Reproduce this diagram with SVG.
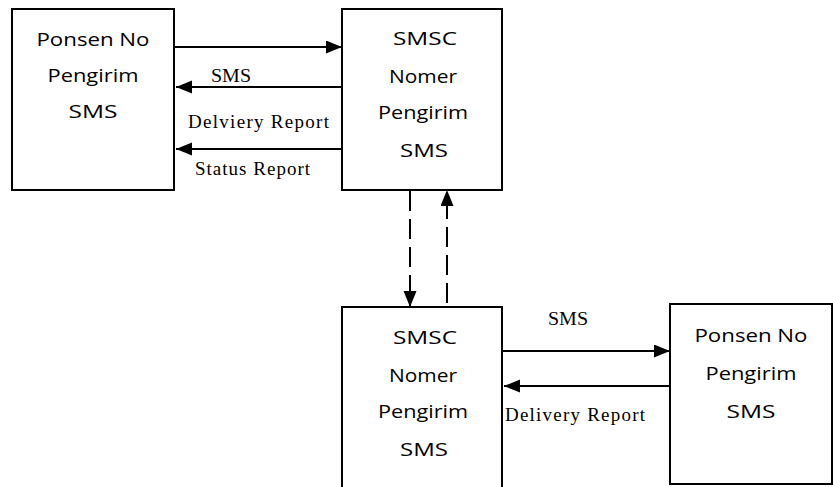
<svg xmlns="http://www.w3.org/2000/svg" width="833" height="487" viewBox="0 0 833 487">
<style>
.box{fill:#fff;stroke:#000;stroke-width:2}
.t{font-family:"Open Sans","Noto Sans",sans-serif;font-size:18.5px;fill:#000;text-anchor:middle}
.l{font-family:"Liberation Serif","Times New Roman",serif;font-size:19px;fill:#000}
.c{stroke:#000;stroke-width:2;fill:none}
.d{stroke-dasharray:20 8}
</style>
<defs>
<marker id="ah" markerUnits="userSpaceOnUse" markerWidth="17" markerHeight="14" refX="16" refY="6.5" orient="auto">
<path d="M0,0 L16,6.5 L0,13 Z" fill="#000"/>
</marker>
</defs>
<g id="connectors">
<line class="c" x1="174" y1="47" x2="342" y2="47" marker-end="url(#ah)"/>
<line class="c" x1="344" y1="87" x2="176" y2="87" marker-end="url(#ah)"/>
<line class="c" x1="344" y1="149" x2="176" y2="149" marker-end="url(#ah)"/>
<line class="c d" x1="410" y1="191" x2="410" y2="307" marker-end="url(#ah)"/>
<line class="c d" x1="447" y1="303" x2="447" y2="190" marker-end="url(#ah)"/>
<line class="c" x1="502" y1="351" x2="670" y2="351" marker-end="url(#ah)"/>
<line class="c" x1="672" y1="386" x2="504" y2="386" marker-end="url(#ah)"/>
<text class="l" x="211" y="82" textLength="40" lengthAdjust="spacingAndGlyphs">SMS</text>
<text class="l" x="188" y="128" textLength="141" lengthAdjust="spacing">Delviery Report</text>
<text class="l" x="195" y="175" textLength="115" lengthAdjust="spacing">Status Report</text>
<text class="l" x="548" y="325" textLength="40" lengthAdjust="spacingAndGlyphs">SMS</text>
<text class="l" x="505" y="421" textLength="140" lengthAdjust="spacing">Delivery Report</text>
</g>
<g id="node-hp-sender">
<rect class="box" x="12" y="9" width="162" height="181"/>
<text class="t" x="93" y="46" textLength="113" lengthAdjust="spacingAndGlyphs">Ponsen No</text>
<text class="t" x="93" y="82" textLength="91" lengthAdjust="spacingAndGlyphs">Pengirim</text>
<text class="t" x="93" y="118" textLength="49" lengthAdjust="spacingAndGlyphs">SMS</text>
</g>
<g id="node-smsc-top">
<rect class="box" x="342" y="9" width="160" height="181"/>
<text class="t" x="425" y="45" textLength="64" lengthAdjust="spacingAndGlyphs">SMSC</text>
<text class="t" x="423" y="83" textLength="68" lengthAdjust="spacingAndGlyphs">Nomer</text>
<text class="t" x="423" y="119" textLength="90" lengthAdjust="spacingAndGlyphs">Pengirim</text>
<text class="t" x="424" y="157" textLength="48" lengthAdjust="spacingAndGlyphs">SMS</text>
</g>
<g id="node-smsc-bottom">
<rect class="box" x="342" y="307" width="160" height="190"/>
<text class="t" x="425" y="344" textLength="64" lengthAdjust="spacingAndGlyphs">SMSC</text>
<text class="t" x="423" y="382" textLength="68" lengthAdjust="spacingAndGlyphs">Nomer</text>
<text class="t" x="423" y="418" textLength="90" lengthAdjust="spacingAndGlyphs">Pengirim</text>
<text class="t" x="424" y="456" textLength="48" lengthAdjust="spacingAndGlyphs">SMS</text>
</g>
<g id="node-hp-receiver">
<rect class="box" x="670" y="304" width="162" height="180"/>
<text class="t" x="751" y="342" textLength="113" lengthAdjust="spacingAndGlyphs">Ponsen No</text>
<text class="t" x="751" y="380" textLength="91" lengthAdjust="spacingAndGlyphs">Pengirim</text>
<text class="t" x="751" y="418" textLength="49" lengthAdjust="spacingAndGlyphs">SMS</text>
</g>
</svg>
